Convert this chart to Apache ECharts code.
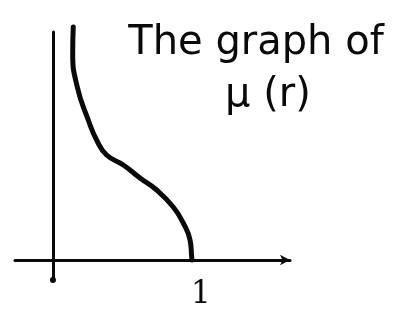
<!DOCTYPE html>
<html>
<head>
<meta charset="utf-8">
<script src="https://cdn.jsdelivr.net/npm/echarts@6/dist/echarts.min.js"></script>
<style>
  html, body { margin: 0; padding: 0; background: #fff; }
  #chart { width: 416px; height: 326px; }
</style>
</head>
<body>
<div id="chart"></div>
<script>
// Sketch of mu(r): steep near r = 0, shoulder in the middle, drops to zero at r = 1
const rValues = [0.146, 0.142, 0.175, 0.254, 0.314, 0.386, 0.506, 0.626, 0.746, 0.865, 0.937, 0.986, 0.998, 1.0];
const muValues = [2.33, 2.07, 1.73, 1.40, 1.20, 1.05, 0.95, 0.82, 0.70, 0.53, 0.37, 0.20, 0.03, 0.0];
const xTickLabels = [1];
const titleLines = ['The graph of', 'μ (r)'];

const curve = rValues.map((r, i) => [r, muValues[i]]);
const ink = '#0a0a0a';

const chart = echarts.init(document.getElementById('chart'), null, { renderer: 'canvas' });
chart.setOption({
  backgroundColor: '#ffffff',
  animation: false,
  grid: { left: 15, top: 32, width: 275, height: 248, containLabel: false },
  xAxis: {
    type: 'value',
    min: -0.273,
    max: 1.705,
    splitLine: { show: false },
    axisLine: {
      onZero: true,
      lineStyle: { color: ink, width: 3 },
      symbol: ['none', 'arrow'],
      symbolSize: [8, 10]
    },
    axisTick: { show: false },
    axisLabel: {
      customValues: xTickLabels,
      formatter: v => String(v),
      color: ink,
      fontFamily: 'DejaVu Serif',
      fontSize: 31,
      margin: -1,
      padding: [0, 0, 0, 18]
    }
  },
  yAxis: {
    type: 'value',
    min: -0.20,
    max: 2.28,
    splitLine: { show: false },
    axisLine: {
      onZero: true,
      lineStyle: { color: ink, width: 3 },
      symbol: ['circle', 'none'],
      symbolSize: [6, 6]
    },
    axisTick: { show: false },
    axisLabel: { show: false }
  },
  graphic: [
    {
      type: 'text',
      style: {
        text: titleLines[0],
        x: 256, y: 64,
        font: '40px "DejaVu Sans"',
        fill: ink,
        textAlign: 'center',
        textVerticalAlign: 'bottom'
      }
    },
    {
      type: 'text',
      style: {
        text: titleLines[1],
        x: 268, y: 116,
        font: '40px "DejaVu Sans"',
        fill: ink,
        textAlign: 'center',
        textVerticalAlign: 'bottom'
      }
    }
  ],
  series: [{
    type: 'line',
    data: curve,
    smooth: 0.5,
    clip: false,
    showSymbol: false,
    lineStyle: { color: ink, width: 5, cap: 'round' }
  }]
});
</script>
</body>
</html>
